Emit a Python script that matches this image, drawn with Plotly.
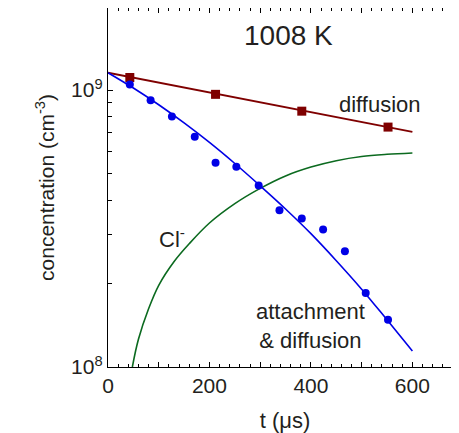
import math
import plotly.graph_objects as go

# ---- data ----
t_diff_pts = [43, 212, 382, 552]
c_diff_pts = [1.11e9, 9.65e8, 8.39e8, 7.35e8]

t_diff_line = [0, 600]
c_diff_line = [1.155e9, 7.07e8]

t_att_pts = [43, 84, 126, 171, 212, 253, 297, 338, 382, 424, 467, 508, 552]
c_att_pts = [1.048e9, 9.18e8, 8.03e8, 6.78e8, 5.46e8, 5.28e8, 4.52e8, 3.68e8,
             3.44e8, 3.14e8, 2.62e8, 1.85e8, 1.48e8]

t_att_line = [0, 50, 100, 150, 200, 250, 300, 350, 400, 450, 500, 550, 600]
c_att_line = [1.155e9, 1.017e9, 8.85e8, 7.61e8, 6.47e8, 5.43e8, 4.51e8,
              3.72e8, 3.03e8, 2.42e8, 1.91e8, 1.48e8, 1.143e8]

t_cl = [48, 60, 80, 100, 130, 160, 200, 250, 300, 350, 400, 450, 500, 550, 600]
c_cl = [1.0e8, 1.259e8, 1.622e8, 1.972e8, 2.399e8, 2.786e8, 3.311e8, 3.89e8,
        4.416e8, 4.898e8, 5.272e8, 5.559e8, 5.754e8, 5.861e8, 5.929e8]

x_tickvals = [0, 100, 200, 300, 400, 500, 600]
x_ticktext = ["0", "", "200", "", "400", "", "600"]
y_tickvals = [1e8, 1e9]
y_ticktext = ["10<sup>8</sup>", "10<sup>9</sup>"]
y_minor = [2e8, 3e8, 4e8, 5e8, 6e8, 7e8, 8e8, 9e8, 2e9]

MAROON = "#7f0000"
BLUE = "#0000e6"
GREEN = "#0b6a1f"
TXT = "#231f20"
FONT = "Liberation Sans, Arial, sans-serif"

fig = go.Figure()
fig.add_trace(go.Scatter(x=t_cl, y=c_cl, mode="lines",
                         line=dict(color=GREEN, width=1.6, shape="spline")))
fig.add_trace(go.Scatter(x=t_diff_line, y=c_diff_line, mode="lines",
                         line=dict(color=MAROON, width=1.8)))
fig.add_trace(go.Scatter(x=t_att_line, y=c_att_line, mode="lines",
                         line=dict(color=BLUE, width=1.6, shape="spline")))
fig.add_trace(go.Scatter(x=t_diff_pts, y=c_diff_pts, mode="markers",
                         marker=dict(symbol="square", size=9, color=MAROON)))
fig.add_trace(go.Scatter(x=t_att_pts, y=c_att_pts, mode="markers",
                         marker=dict(symbol="circle", size=8, color=BLUE)))

ann_font = dict(family=FONT, size=22, color=TXT)
fig.add_annotation(x=356, y=math.log10(1.574e9), text="1008 K", showarrow=False,
                   font=dict(family=FONT, size=28, color=TXT))
fig.add_annotation(x=537, y=math.log10(8.9e8), text="diffusion", showarrow=False,
                   font=ann_font)
fig.add_annotation(x=126, y=math.log10(2.92e8), text="Cl<sup>-</sup>", showarrow=False,
                   font=ann_font)
fig.add_annotation(x=400, y=math.log10(1.41e8), text="attachment<br>& diffusion",
                   showarrow=False, font=ann_font, align="center")

fig.update_layout(
    width=459, height=433,
    margin=dict(l=100, r=5, t=0, b=74),
    plot_bgcolor="white", paper_bgcolor="white",
    showlegend=False,
    font=dict(family=FONT, color=TXT, size=21),
)
fig.update_xaxes(
    range=[0, 697.8], showgrid=False, zeroline=False,
    showline=True, linecolor="black", linewidth=1.3, mirror="ticks",
    ticks="inside", ticklen=5, tickwidth=1, tickcolor="black",
    tickmode="array", tickvals=x_tickvals, ticktext=x_ticktext,
    tickfont=dict(size=21, color=TXT),
    minor=dict(ticks="inside", dtick=20, tick0=0, ticklen=3, tickcolor="black", showgrid=False),
    title=dict(text="t (μs)", font=dict(size=22, color=TXT), standoff=16),
)
fig.update_yaxes(
    type="log", range=[8, 9.2963], showgrid=False, zeroline=False,
    showline=True, linecolor="black", linewidth=1.3, mirror="ticks",
    ticks="inside", ticklen=5, tickwidth=1, tickcolor="black",
    tickmode="array", tickvals=y_tickvals, ticktext=y_ticktext,
    tickfont=dict(size=21, color=TXT),
    minor=dict(ticks="inside", tickvals=y_minor, ticklen=4, tickcolor="black", showgrid=False),
    title=dict(text="concentration (cm<sup>-3</sup>)", font=dict(size=21, color=TXT), standoff=10),
)

fig.write_html("out.html")
